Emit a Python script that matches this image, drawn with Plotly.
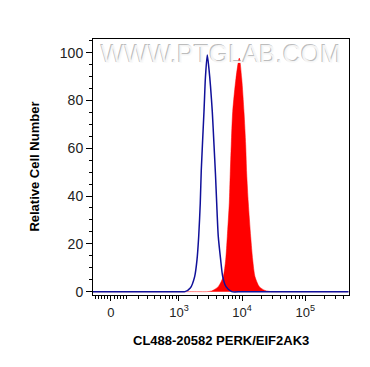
import numpy as np
import plotly.graph_objects as go

# ---- data (fluorescence intensity vs. relative cell number) ----
blue_x = [-120, 0, 500, 1000, 1249, 1517, 1780, 1938, 2061, 2184, 2266, 2501, 2641, 2820,
          3003, 3171, 3385, 3602, 3802, 3973, 4211, 4594, 4947, 5576, 6860, 10000,
          50000, 480000]
blue_y = [0, 0, 0, 0, 0, 1.5, 6.3, 13.3, 23.0, 37.1, 50.9, 75.3, 90, 99,
          93, 86, 75.3, 61.4, 49, 37.1, 23.0, 13.3, 6.3, 2.1, 0, 0,
          0, 0]

red_x = [-120, 0, 1000, 2000, 2761, 3310, 4211, 5049, 5511, 5840, 6280, 6493, 6748,
         7113, 8019, 9042, 9867, 10727, 11414, 11832, 12551, 13694, 14729, 16006,
         18724, 23035, 29393, 40000, 100000, 480000]
red_y = [0, 0, 0, 0, 0, 0.3, 2.1, 6.3, 13.3, 23.0, 37.1, 49, 61.4,
         75.3, 89.3, 97.7, 89.3, 75.3, 61.4, 49.5, 37.1, 23.0, 13.3, 6.3,
         2.1, 0.5, 0, 0, 0, 0]

x_major_vals = [0, 1e3, 1e4, 1e5]
x_major_text = ["0", "10<sup>3</sup>", "10<sup>4</sup>", "10<sup>5</sup>"]
y_tick_vals = [0, 20, 40, 60, 80, 100]

x_title = "CL488-20582 PERK/EIF2AK3"
y_title = "Relative Cell Number"
watermark = "WWW.PTGLAB.COM"

# ---- logicle-like (arcsinh) display transform ----
C = 170.0
def tr(v):
    return np.arcsinh(np.asarray(v, dtype=float) / C) / np.log(10)

minor_vals = list(range(-100, 101, 20))
for dec in [100, 1000, 10000, 100000]:
    for m in range(1, 10):
        v = m * dec
        if v not in (1000, 10000, 100000) and v < 480000:
            minor_vals.append(v)
minor_vals = [v for v in minor_vals if v != 0]

font = "Liberation Sans, Arial, sans-serif"

fig = go.Figure()
fig.add_trace(go.Scatter(
    x=tr(red_x), y=red_y, mode="lines", fill="tozeroy",
    line=dict(color="#FF0000", width=0.5, shape="spline", smoothing=0.7),
    fillcolor="#FF0000", showlegend=False, hoverinfo="skip"))
fig.add_trace(go.Scatter(
    x=tr(blue_x), y=blue_y, mode="lines",
    line=dict(color="#10109A", width=1.5, shape="spline", smoothing=0.7),
    showlegend=False, hoverinfo="skip"))

fig.update_layout(
    width=370, height=367,
    margin=dict(l=93, r=21, t=39, b=72, autoexpand=False),
    paper_bgcolor="white", plot_bgcolor="white",
    font=dict(family=font, color="#222"),
    hovermode=False,
)
fig.update_xaxes(
    range=[-0.284, 3.76], showgrid=False, zeroline=False,
    showline=True, linecolor="black", linewidth=1, mirror=True,
    tickmode="array", tickvals=list(tr(x_major_vals)), ticktext=x_major_text,
    ticks="outside", ticklen=5, tickcolor="black", tickwidth=1,
    tickfont=dict(size=13, color="#222", family=font),
    minor=dict(tickmode="array", tickvals=list(tr(minor_vals)),
               ticks="outside", ticklen=3, tickcolor="black", tickwidth=1),
)
fig.update_yaxes(
    range=[-1.4, 105.7], showgrid=False, zeroline=False,
    showline=True, linecolor="black", linewidth=1, mirror=True,
    tickmode="array", tickvals=y_tick_vals,
    ticks="outside", ticklen=6, tickcolor="black", tickwidth=1,
    tickfont=dict(size=14, color="#222", family=font),
    minor=dict(tickmode="linear", tick0=0, dtick=5,
               ticks="outside", ticklen=3, tickcolor="black", tickwidth=1),
)

fig.add_annotation(xref="paper", yref="paper", x=0.5, y=-0.176,
                   text="<b>%s</b>" % x_title, showarrow=False,
                   font=dict(size=13, color="black", family=font),
                   xanchor="center", yanchor="middle")
fig.add_annotation(xref="paper", yref="paper", x=-0.232, y=0.5,
                   text="<b>%s</b>" % y_title, showarrow=False, textangle=-90,
                   font=dict(size=13, color="black", family=font),
                   xanchor="center", yanchor="middle")
# embossed watermark
fig.add_annotation(xref="paper", yref="paper", x=0.5, y=0.943,
                   text=watermark, showarrow=False, xshift=-1, yshift=1,
                   font=dict(size=25, color="rgba(160,160,160,0.7)", family=font),
                   xanchor="center", yanchor="middle")
fig.add_annotation(xref="paper", yref="paper", x=0.5, y=0.943,
                   text=watermark, showarrow=False,
                   font=dict(size=25, color="rgba(250,250,250,0.92)", family=font),
                   xanchor="center", yanchor="middle")

fig.write_html("out.html", config={"displayModeBar": False, "staticPlot": True},
               post_script="document.body.style.margin='0';")
